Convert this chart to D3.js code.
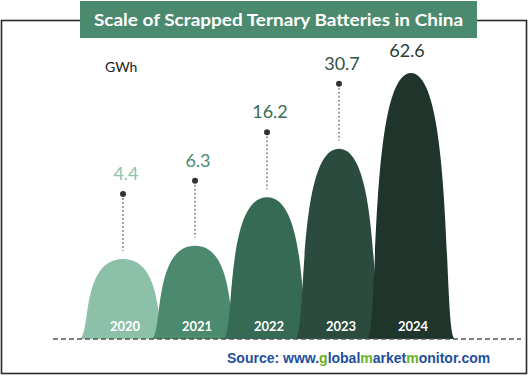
<!DOCTYPE html>
<html><head><meta charset="utf-8">
<script src="https://cdn.jsdelivr.net/npm/d3@7"></script>
<style>body{margin:0;background:#fff}svg{display:block}</style>
</head><body>
<script>
const years = ["2020","2021","2022","2023","2024"];
const values = [4.4, 6.3, 16.2, 30.7, 62.6];
const valueLabels = ["4.4","6.3","16.2","30.7","62.6"];
const showLeader = [true, true, true, true, false];
const humpColors = ["#8cc0a9","#4b8a6f","#376a55","#2a4b3e","#1f342b"];
const labelColors = ["#8cc4ab","#4b8a6f","#3a6b56","#2d5446","#273f35"];
const title = "Scale of Scrapped Ternary Batteries in China";
const unit = "GWh";
const sourceParts = [["Source: www.","#1d4f9e"],["g","#69b024"],["lobal","#1d4f9e"],["m","#69b024"],["arket","#1d4f9e"],["m","#69b024"],["onitor.com","#1d4f9e"]];

const W = 529, H = 376, base = 339;
const svg = d3.select("body").append("svg").attr("width", W).attr("height", H);

// frame
svg.append("rect").attr("x",1.5).attr("y",20.5).attr("width",525).attr("height",353)
  .attr("fill","none").attr("stroke","#2a2a2a").attr("stroke-width",1.6);

// title box
svg.append("rect").attr("x",80).attr("y",1).attr("width",397).attr("height",37).attr("fill","#4b8a6f");
svg.append("text").attr("x",278.5).attr("y",26).attr("text-anchor","middle")
  .attr("font-family","Lato, 'Open Sans', sans-serif").attr("font-weight","bold").attr("font-size",17.5)
  .attr("fill","#fff").attr("textLength",369).attr("lengthAdjust","spacingAndGlyphs").text(title);

svg.append("text").attr("x",105).attr("y",72).attr("font-family","Lato, sans-serif")
  .attr("font-size",14).attr("fill","#222").text(unit);

const x = d3.scalePoint().domain(years).range([123, 411]);
const y = d3.scaleSqrt().domain([0, 62.6]).range([326, 73]);
const w = 44;

function hump(cx, top) {
  const p = d3.path();
  p.moveTo(cx - w, base);
  p.bezierCurveTo(cx - 0.72*w, base, cx - w*0.98, top, cx, top);
  p.bezierCurveTo(cx + w*0.98, top, cx + 0.72*w, base, cx + w, base);
  p.closePath();
  return p.toString();
}

const g = svg.append("g");
years.forEach((yr, i) => {
  const cx = x(yr), top = y(values[i]);
  g.append("path").attr("d", hump(cx, top)).attr("fill", humpColors[i]);
});

// leaders and labels
years.forEach((yr, i) => {
  const cx = x(yr), top = y(values[i]);
  if (showLeader[i]) {
    const dotY = top - 65;
    svg.append("line").attr("x1",cx).attr("x2",cx).attr("y1",dotY).attr("y2",top - 8)
      .attr("stroke","#666").attr("stroke-width",1.2).attr("stroke-dasharray","2,2");
    svg.append("circle").attr("cx",cx).attr("cy",dotY).attr("r",3).attr("fill","#333");
    svg.append("text").attr("x",cx + 3).attr("y",dotY - 14).attr("text-anchor","middle")
      .attr("font-family","Lato, sans-serif").attr("font-size",18).attr("fill",labelColors[i]).text(valueLabels[i]);
  } else {
    svg.append("text").attr("x",cx - 4).attr("y",top - 16).attr("text-anchor","middle")
      .attr("font-family","Lato, sans-serif").attr("font-size",18).attr("fill",labelColors[i]).text(valueLabels[i]);
  }
  svg.append("text").attr("x",cx + 2).attr("y",331).attr("text-anchor","middle")
    .attr("font-family","Lato, sans-serif").attr("font-weight","bold").attr("font-size",13)
    .attr("fill","#fff").text(yr);
});

// dashed baseline
svg.append("line").attr("x1",53).attr("x2",521).attr("y1",base).attr("y2",base)
  .attr("stroke","#555").attr("stroke-width",1.5).attr("stroke-dasharray","5,3");

// source
const src = svg.append("text").attr("x",227).attr("y",363)
  .attr("font-family","'Liberation Sans', Arial, sans-serif").attr("font-weight","bold").attr("font-size",14);
sourceParts.forEach(([t,c]) => src.append("tspan").attr("fill",c).text(t));
</script>
</body></html>
